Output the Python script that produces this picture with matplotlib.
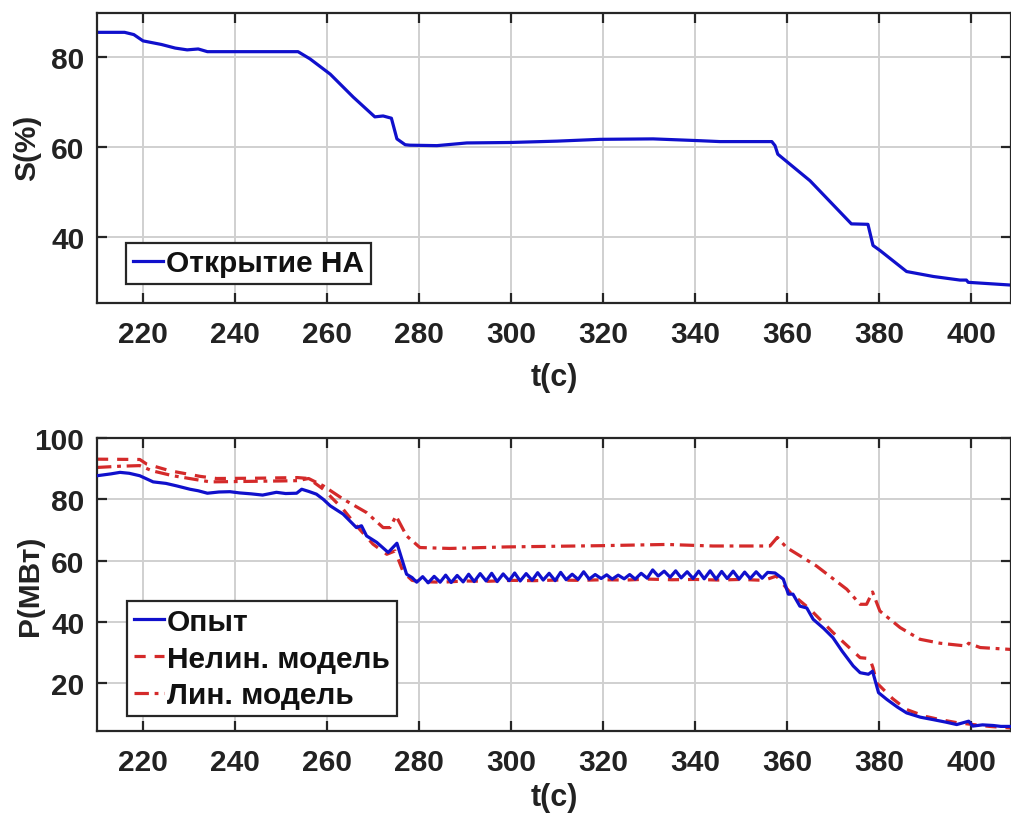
import matplotlib
matplotlib.use("Agg")
import matplotlib.pyplot as plt

# ---------------- data ----------------
t_s = [210, 216, 218, 220, 224, 227, 229.6, 232, 234, 240, 253.7, 256.3, 260.7, 265.7,
       270.4, 272.2, 274, 275.2, 277, 278, 283.9, 290.4, 299.8, 310, 319.3, 330.9, 341,
       345.4, 356.7, 357.4, 358, 365, 374, 377.6, 378.7, 380.2, 386, 391.8, 397.6, 399,
       399.4, 408.5, 409]
s_open = [85.5, 85.5, 85.0, 83.6, 82.8, 82.0, 81.6, 81.8, 81.2, 81.2, 81.2, 79.6, 76.2, 71.1,
          66.7, 66.9, 66.4, 61.8, 60.5, 60.4, 60.3, 60.9, 61.0, 61.3, 61.7, 61.8, 61.4,
          61.2, 61.2, 60.3, 58.4, 52.5, 42.9, 42.8, 38.1, 37.0, 32.3, 31.2, 30.4, 30.4,
          29.9, 29.3, 29.2]

t_exp = [210, 213, 215, 217, 219.3, 222.2, 225, 227.3, 230.2, 232, 234, 236.5, 238.9, 241,
         243.5, 246, 249, 251, 253.4, 254.5, 256, 257.7, 259.2, 260.7, 263.5, 266.4, 267.5,
         268.6, 270.8, 273.3, 275.2, 277.3,
         278.5, 279.5, 280.8, 282, 283.3, 284.6, 285.8, 287, 288.3, 289.6, 290.8, 292,
         293.3, 294.6, 295.8, 297, 298.3, 299.6, 300.8, 302, 303.3, 304.6, 305.8, 307,
         308.3, 309.6, 310.8, 312, 313.3, 314.6, 315.8, 317, 318.3, 319.6, 320.8, 322,
         323.3, 324.6, 325.8, 327, 328.3, 329.6, 330.8, 332, 333.3, 334.6, 335.8, 337,
         338.3, 339.6, 340.8, 342, 343.3, 344.6, 345.8, 347, 348.3, 349.6, 350.8, 352,
         353.3, 354.6, 355.8, 357.4, 359.2, 360.3, 361.3, 362.8, 364.3, 365.7, 368, 370,
         372, 374.4, 375.9, 377.7, 378.6, 379.9, 381.7, 384, 386, 389, 391.8, 394.5, 396.9,
         399.5, 400.4, 402.5, 404.8, 406.5, 408.5, 409]
p_exp = [87.7, 88.3, 88.8, 88.5, 87.7, 85.7, 85.2, 84.4, 83.3, 82.8, 82.0, 82.4, 82.5, 82.1,
         81.8, 81.4, 82.3, 81.9, 82.0, 83.3, 82.6, 81.7, 80.0, 77.9, 75.2, 70.8, 71.4,
         68.1, 66.0, 62.7, 65.7, 55.6,
         54.5, 53.0, 54.8, 52.8, 54.9, 53.0, 55.3, 52.9, 55.2, 53.1, 55.6, 53.2,
         55.8, 53.4, 55.9, 53.2, 55.7, 53.5, 56.0, 53.4, 55.8, 53.6, 56.1, 53.7,
         55.9, 53.5, 56.2, 53.8, 55.6, 53.9, 56.4, 54.0, 55.5, 54.2, 55.4, 54.0,
         55.3, 54.1, 55.5, 54.0, 55.9, 54.3, 57.0, 55.0, 56.6, 54.6, 56.7, 54.4,
         56.4, 54.2, 56.6, 54.1, 56.7, 54.0, 56.5, 54.2, 56.6, 54.0, 56.3, 54.2,
         56.4, 54.3, 56.2, 56.0, 54.0, 49.1, 49.1, 45.2, 44.6, 40.9, 37.9, 34.9,
         30.5, 25.7, 23.5, 23.0, 24.0, 17.0, 14.8, 12.3, 10.4, 9.0, 8.2, 7.4, 6.6,
         7.7, 6.1, 6.5, 6.3, 6.0, 6.0, 5.9]

t_nl = [210, 219.3, 220.8, 225.9, 232.4, 236, 245, 253.6, 256, 259.2, 263.5, 266.4, 270,
        273, 274.8, 276.6, 278.5, 280, 285, 290, 295, 300, 305, 310, 315, 320, 325, 330,
        335, 340, 345, 350, 355, 357.7, 360.7, 365, 370, 375.9, 378, 378.7, 379.5, 383,
        386, 390, 393.3, 397, 400.5, 404, 408.5, 409]
p_nl = [93.1, 93.0, 91.5, 89.3, 87.5, 86.8, 86.9, 87.1, 86.8, 83.3, 76.8, 71.4, 65.4,
        62.1, 63.2, 56.2, 53.6, 53.2, 53.0, 53.4, 53.3, 53.6, 53.5, 53.7, 53.6, 53.8, 53.7,
        54.0, 53.8, 53.9, 53.7, 53.9, 53.6, 55.0, 49.6, 44.2, 36.6, 28.4, 28.1, 25.1, 20.2,
        15.0, 11.5, 9.3, 8.2, 7.2, 6.6, 6.0, 5.5, 5.4]

t_lin = [210, 215, 219.3, 222, 226.5, 231.7, 234.6, 240, 245, 250, 253.6, 256, 259.2,
         263.5, 268.6, 272.2, 273.7, 275, 277.3, 280.2, 286.7, 299, 319.3, 333.8, 343.9,
         356.3, 357.9, 359.9, 366.4, 373, 375.9, 377.3, 378.6, 380.2, 384.6, 388.9, 393.3,
         399, 399.5, 402, 408.5, 409]
p_lin = [90.4, 90.8, 91.0, 89.3, 87.7, 86.4, 85.7, 85.8, 85.9, 86.0, 86.1, 86.8, 84.4,
         80.1, 75.7, 70.8, 70.8, 74.6, 68.1, 64.3, 64.0, 64.5, 64.9, 65.3, 64.8,
         64.8, 67.6, 64.3, 58.3, 50.7, 45.8, 45.8, 49.8, 43.6, 38.2, 34.4, 33.1,
         32.2, 33.1, 31.7, 31.1, 31.0]

xticks = [220, 240, 260, 280, 300, 320, 340, 360, 380, 400]
yticks_top = [40, 60, 80]
yticks_bot = [20, 40, 60, 80, 100]

label_open = "Открытие НА"
label_exp = "Опыт"
label_nl = "Нелин. модель"
label_lin = "Лин. модель"

# ---------------- style ----------------
plt.rcParams['font.family'] = ['Liberation Sans', 'DejaVu Sans']
plt.rcParams['font.weight'] = 'bold'
FS = 21.5
BLUE = '#1010cc'
RED = '#d42a2a'
SPINE = '#262626'

fig = plt.figure(figsize=(10.11, 8.2), dpi=100)
W, H = 1011, 820
ax1 = fig.add_axes([97 / W, 1 - 304 / H, 914 / W, 290 / H])
ax2 = fig.add_axes([97 / W, 1 - 732 / H, 914 / W, 293 / H])


def style(ax, yticks, ylim):
    ax.set_xlim(210, 408.7)
    ax.set_ylim(*ylim)
    ax.set_xticks(xticks)
    ax.set_yticks(yticks)
    ax.grid(True, color='#d0d0d0', linewidth=1.4)
    ax.set_axisbelow(True)
    ax.tick_params(direction='in', length=7, width=1.6, colors=SPINE,
                   top=True, right=True, labelsize=FS)
    ax.tick_params(axis='x', pad=12)
    ax.tick_params(axis='y', pad=9)
    for lab in ax.get_xticklabels() + ax.get_yticklabels():
        lab.set_fontweight('bold')
        lab.set_color('#222222')
    for sp in ax.spines.values():
        sp.set_color(SPINE)
        sp.set_linewidth(1.6)


style(ax1, yticks_top, (25.3, 89.8))
style(ax2, yticks_bot, (4.5, 100))

ax1.plot(t_s, s_open, color=BLUE, lw=2.3, label=label_open)

ax2.plot(t_exp, p_exp, color=BLUE, lw=2.3, label=label_exp, zorder=3)
ax2.plot(t_nl, p_nl, color=RED, lw=2.3, linestyle=(0, (3.5, 2.8)), label=label_nl, zorder=2)
ax2.plot(t_lin, p_lin, color=RED, lw=2.3, linestyle=(0, (4.5, 1.8, 1.2, 1.8)), label=label_lin, zorder=2)

for ax, yl, ylx, yly, xly in [(ax1, 'S(%)', -0.077, 0.54, -0.255),
                              (ax2, 'P(МВт)', -0.073, 0.50, -0.225)]:
    ax.set_ylabel(yl, fontsize=FS, fontweight='bold', color='#222222')
    ax.yaxis.set_label_coords(ylx, yly)
    ax.set_xlabel('t(c)', fontsize=FS + 0.5, fontweight='bold', color='#222222')
    ax.xaxis.set_label_coords(0.5, xly)
    ax.xaxis.label.set_va('center')
    ax.yaxis.label.set_va('center')

leg_kw = dict(fontsize=FS, frameon=True, fancybox=False, shadow=False,
              handlelength=1.0, handletextpad=0.12, borderpad=0.22,
              labelspacing=0.3, borderaxespad=0, loc='lower left')
lg1 = ax1.legend(bbox_to_anchor=(0.032, 0.066), **leg_kw)
lg2 = ax2.legend(bbox_to_anchor=(0.033, 0.051), **leg_kw)
for lg in (lg1, lg2):
    fr = lg.get_frame()
    fr.set_edgecolor('#262626')
    fr.set_linewidth(1.6)
    fr.set_alpha(1)
    for tx in lg.get_texts():
        tx.set_fontweight('bold')
        tx.set_color('#111111')

fig.savefig('out.png', dpi=100)
